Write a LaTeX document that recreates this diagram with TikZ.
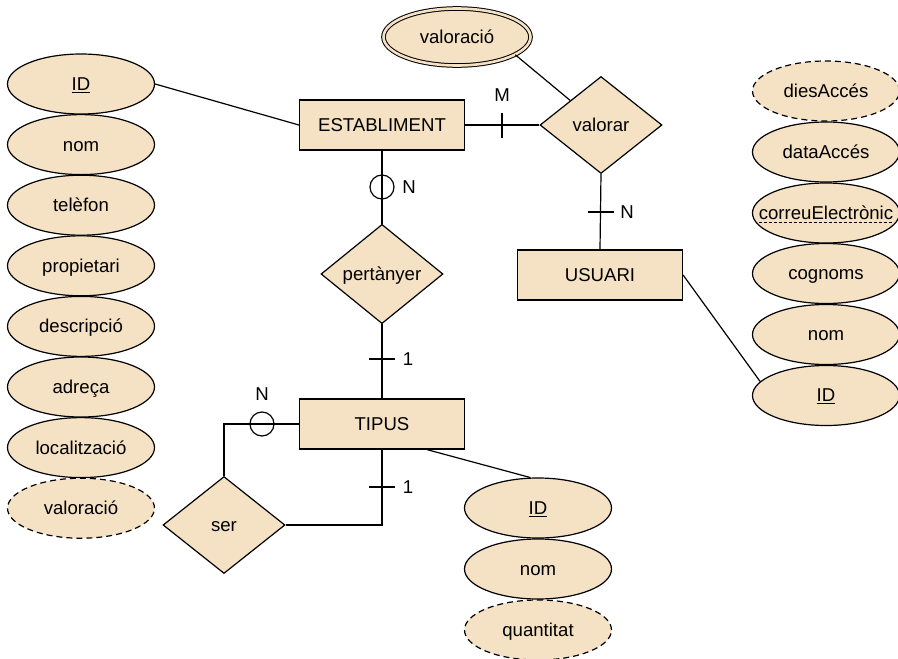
\documentclass[tikz,border=0pt]{standalone}
\usepackage{fontspec}
\setmainfont{Liberation Sans}
\usetikzlibrary{shapes.geometric}
\definecolor{erfill}{RGB}{245,225,196}
\begin{document}
\begin{tikzpicture}[x=1pt,y=-1pt,
  every node/.style={font=\fontsize{18.6}{22}\selectfont,text height=16.8pt,text depth=3.9pt},
  conn/.style={line width=1.2pt},
  entity/.style={draw,line width=1.2pt,fill=erfill,rectangle,minimum width=165,minimum height=50,inner sep=0},
  relation/.style={draw,line width=1.2pt,fill=erfill,diamond,minimum width=122,minimum height=97,inner sep=0},
  attr/.style={draw,line width=1.2pt,fill=erfill,ellipse,minimum width=147,minimum height=60,inner sep=0},
  derived/.style={attr,dash pattern=on 6pt off 4pt},
  multival/.style={attr,double=erfill,double distance=2.6pt,line width=1pt,minimum height=57},
  optmark/.style={draw,line width=1.2pt,circle,minimum size=24,inner sep=0},
  card/.style={inner sep=0}]
\useasboundingbox (0,0) rectangle (898,659);

% entities
\node[entity] (est) at (382,125) {ESTABLIMENT};
\node[entity] (usuari) at (600,275) {USUARI};
\node[entity] (tipus) at (382,424) {TIPUS};

% relationships
\node[relation] (valorar) at (601,125) {valorar};
\node[relation] (pert) at (382,274) {pertànyer};
\node[relation] (ser) at (224,525) {ser};

% attributes of ESTABLIMENT
\node[attr] (eID) at (81,84) {\underline{ID}};
\node[attr] (eNom) at (81,144.6) {nom};
\node[attr] (eTel) at (81,205.2) {telèfon};
\node[attr] (eProp) at (81,265.8) {propietari};
\node[attr] (eDesc) at (81,326.4) {descripció};
\node[attr] (eAdr) at (81,387) {adreça};
\node[attr] (eLoc) at (81,447.6) {localització};
\node[derived] (eVal) at (81,508.2) {valoració};

% attribute of valorar
\node[multival] (vVal) at (457,37) {valoració};

% attributes of USUARI
\node[derived] (uDies) at (826,91) {diesAccés};
\node[attr] (uData) at (826,152) {dataAccés};
\node[attr] (uMail) at (826,213) {};
\node[inner sep=0] (uMailText) at (826,213) {correuElectrònic};
\draw[line width=0.9pt,dash pattern=on 3pt off 2pt]
  ([yshift=-3pt]uMailText.base west) -- ([yshift=-3pt]uMailText.base east);
\node[attr] (uCog) at (826,273.5) {cognoms};
\node[attr] (uNom) at (826,334.5) {nom};
\node[attr] (uID) at (826,395.5) {\underline{ID}};

% attributes of TIPUS
\node[attr] (tID) at (538,508) {\underline{ID}};
\node[attr] (tNom) at (538,569) {nom};
\node[derived] (tQuant) at (538,630) {quantitat};

% connectors
\draw[conn] (eID.east) -- (est.west);
\draw[conn] (est.east) -- (valorar.west);
\draw[conn] (vVal.-17) -- (valorar.north west);
\draw[conn] (valorar.south) -- (usuari.north);
\draw[conn] (usuari.east) -- (uID.168);
\draw[conn] (est.south) -- (pert.north);
\draw[conn] (pert.south) -- (tipus.north);
\draw[conn] (tipus.west) -| (ser.north);
\draw[conn] (tipus.south) |- (ser.east);
\draw[conn] ([xshift=45]tipus.south) -- (tID.104);

% cardinality marks
\coordinate (tkM) at (502,125);
\coordinate (tkUs) at (601,212);
\coordinate (tkPt) at (382,359);
\coordinate (tkSer) at (382,487);
\draw[conn] (tkM) ++(0,-12.5) -- ++(0,25);
\draw[conn] (tkUs) ++(-13,0) -- ++(26,0);
\draw[conn] (tkPt) ++(-13,0) -- ++(26,0);
\draw[conn] (tkSer) ++(-13,0) -- ++(26,0);
\node[optmark] (oEst) at (382,187) {};
\node[optmark] (oTip) at (262,424) {};

\node[card] (lM) at (502,95) {M};
\node[card] (lEst) at (409,187) {N};
\node[card] (lUs) at (627,212) {N};
\node[card] (lPt) at (408,359) {1};
\node[card] (lTip) at (262,394) {N};
\node[card] (lSer) at (408,487) {1};
\end{tikzpicture}
\end{document}
